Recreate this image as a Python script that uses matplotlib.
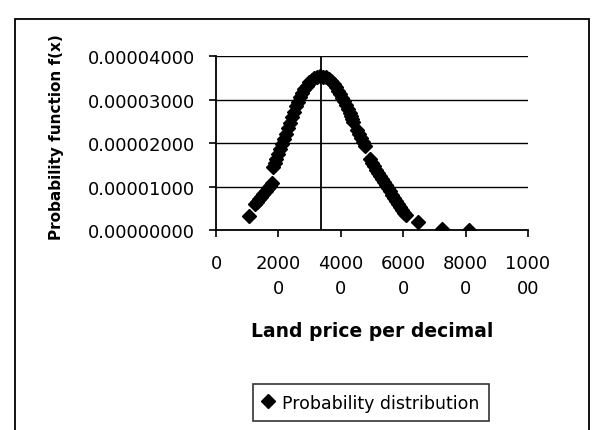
import matplotlib
matplotlib.use("Agg")
import matplotlib.pyplot as plt
from matplotlib.patches import Rectangle

# land price per decimal and probability density read for each point
price = [10580,
         12500, 13140, 13780, 14420, 15060, 15870, 16670, 17310, 17950,
         18270, 18750, 19230, 19870, 20510, 21150, 21790, 22440, 23080,
         23720, 24360, 25000, 25640, 26280, 26920, 27560, 28210, 29010,
         29810, 30610, 31410, 32370, 33330, 34290, 35260, 36060, 36860,
         37660, 38460, 39100, 39740, 40380, 41030, 41670, 42310, 42790,
         43270, 43590, 43910,
         45190, 45830, 46470, 47120, 47760,
         49360, 50000, 50640, 51280, 51920, 52560, 53210, 53850, 54490,
         55130, 55770, 56410, 57050, 57690, 58330, 58970, 59620, 60260,
         60900,
         64740, 72440, 81090]
density = [3.22e-6,
           5.98e-6, 6.55e-6, 7.13e-6, 7.70e-6, 8.28e-6, 8.97e-6, 9.66e-6,
           1.023e-5, 1.080e-5,
           1.448e-5, 1.540e-5, 1.632e-5, 1.747e-5, 1.862e-5, 1.977e-5,
           2.092e-5, 2.218e-5, 2.345e-5, 2.471e-5, 2.598e-5, 2.724e-5,
           2.851e-5, 2.954e-5, 3.057e-5, 3.149e-5, 3.241e-5, 3.322e-5,
           3.402e-5, 3.448e-5, 3.494e-5, 3.517e-5, 3.540e-5, 3.529e-5,
           3.517e-5, 3.471e-5, 3.425e-5, 3.356e-5, 3.287e-5, 3.207e-5,
           3.126e-5, 3.046e-5, 2.966e-5, 2.874e-5, 2.782e-5, 2.701e-5,
           2.621e-5, 2.552e-5, 2.483e-5,
           2.299e-5, 2.207e-5, 2.115e-5, 2.023e-5, 1.931e-5,
           1.632e-5, 1.552e-5, 1.471e-5, 1.391e-5, 1.310e-5, 1.241e-5,
           1.172e-5, 1.103e-5, 1.034e-5, 9.66e-6, 8.97e-6, 8.16e-6,
           7.36e-6, 6.67e-6, 5.98e-6, 5.29e-6, 4.60e-6, 4.02e-6,
           3.45e-6,
           1.84e-6, 3.0e-7, 1.0e-7]
mean_price = 33650

x_ticks = [0, 20000, 40000, 60000, 80000, 100000]
x_labels = ["0", "2000\n0", "4000\n0", "6000\n0", "8000\n0", "1000\n00"]
y_ticks = [0, 1e-5, 2e-5, 3e-5, 4e-5]
y_labels = ["%.8f" % v for v in y_ticks]

plt.rcParams["font.family"] = "DejaVu Sans"

fig = plt.figure(figsize=(5.92, 4.31), dpi=100)
ax = fig.add_axes([0.3649, 0.4640, 0.527, 0.4037])

# chart border, runs off the bottom of the page
fig.patches.append(Rectangle((15 / 592, -0.2), (589 - 15) / 592, 1.2 - 20 / 431,
                             transform=fig.transFigure, fill=False,
                             edgecolor="black", linewidth=1.3, clip_on=False))

for y in y_ticks[1:]:
    ax.axhline(y, color="black", linewidth=1.0, zorder=1)
ax.axvline(mean_price, color="black", linewidth=1.3, zorder=2)

ax.plot(price, density, linestyle="none", marker="D", markersize=7.6,
        color="black", label="Probability distribution", zorder=3)

ax.set_xlim(0, 100000)
ax.set_ylim(0, 4e-5)
ax.set_xticks(x_ticks)
ax.set_xticklabels(x_labels, fontsize=13, linespacing=1.55)
ax.set_yticks(y_ticks)
ax.set_yticklabels(y_labels, fontsize=13)
ax.tick_params(axis="x", direction="out", length=5, width=1.2, pad=12)
ax.tick_params(axis="y", direction="out", length=5, width=1.2, pad=10)

for side in ["top", "right"]:
    ax.spines[side].set_visible(False)
for side in ["left", "bottom"]:
    ax.spines[side].set_linewidth(1.3)

ax.set_xlabel("Land price per decimal", fontsize=13.5, fontweight="bold", labelpad=17)
fig.text(57 / 592, 1 - 137 / 431, "Probability function f(x)", rotation=90,
         fontsize=11, fontweight="bold", ha="center", va="center")

leg = ax.legend(loc="center", bbox_to_anchor=(0.6267, 0.0638),
                bbox_transform=fig.transFigure, fontsize=12.5, frameon=True,
                fancybox=False, handlelength=0.6, handletextpad=0.5,
                borderpad=0.55)
leg.get_frame().set_edgecolor("black")
leg.get_frame().set_linewidth(1.2)

fig.savefig("out.png", dpi=100)
